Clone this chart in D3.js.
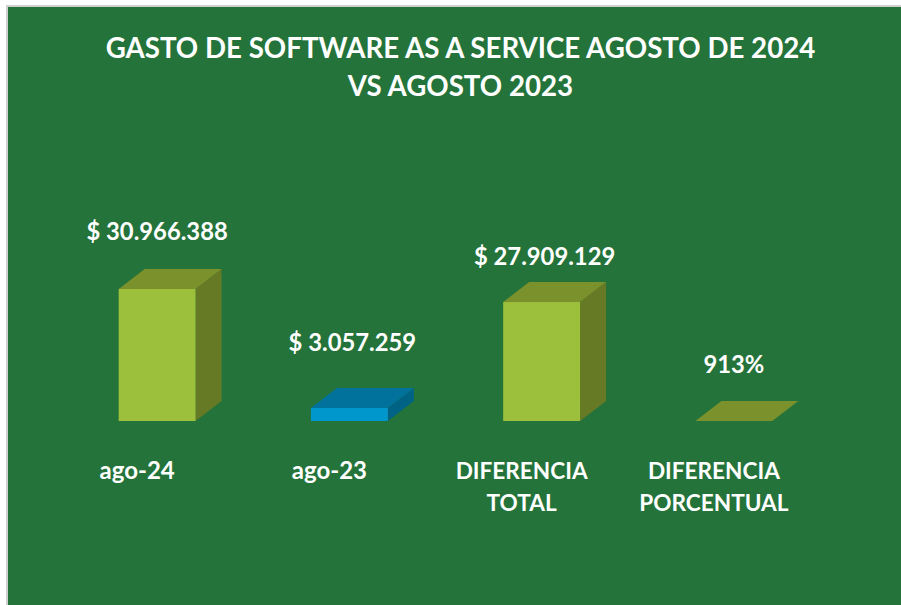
<!DOCTYPE html>
<html>
<head>
<meta charset="utf-8">
<script src="https://cdn.jsdelivr.net/npm/d3@7"></script>
<style>
  html, body { margin: 0; padding: 0; background: #fff; overflow: hidden; }
  svg { display: block; }
  text { font-family: Lato, "Open Sans", sans-serif; font-weight: 700; fill: #fff; }
</style>
</head>
<body>
<svg id="chart" width="901" height="605"></svg>
<script>
// Values
const categories = ["ago-24", "ago-23", "DIFERENCIA TOTAL", "DIFERENCIA PORCENTUAL"];
const categoryLines = [["ago-24"], ["ago-23"], ["DIFERENCIA", "TOTAL"], ["DIFERENCIA", "PORCENTUAL"]];
const values = [30966388, 3057259, 27909129, 9.13];
const valueLabels = ["$ 30.966.388", "$ 3.057.259", "$ 27.909.129", "913%"];
const titleLines = ["GASTO DE SOFTWARE AS A SERVICE AGOSTO DE 2024", "VS AGOSTO 2023"];

// front, top, side colours of each bar
const greenShades = ["#9dc03c", "#7a912c", "#667a26"];
const blueShades = ["#0097cc", "#00729b", "#006385"];
const shades = [greenShades, blueShades, greenShades, greenShades];

// Hand-placed labels: shift from the bar centre and gap above the bar
const labelShift = [0, 3, 3, 0];
const labelGap = [49, 57, 37, 48];
const categorySize = [24, 24, 22.6, 22.6];

const svg = d3.select("#chart");

// Chart background with its thin grey frame
svg.append("rect")
    .attr("x", 7)
    .attr("y", 6)
    .attr("width", 900)
    .attr("height", 610)
    .attr("fill", "#24733a")
    .attr("stroke", "#d0d0d0")
    .attr("stroke-width", 2);

const x = d3.scaleBand()
    .domain(categories)
    .range([61, 830])
    .paddingInner(0.6)
    .paddingOuter(0.3);

const y = d3.scaleLinear()
    .domain([0, d3.max(values)])
    .range([421, 289]);

// Depth of the 3D bars
const depthX = 26, depthY = 20;

const bars = svg.selectAll(".bar")
    .data(categories)
    .join("g")
    .attr("class", "bar");

// Side face
bars.append("path")
    .attr("fill", (d, i) => shades[i][2])
    .attr("d", (d, i) => {
        const r = x(d) + x.bandwidth();
        return `M${r},${y(values[i])}L${r + depthX},${y(values[i]) - depthY}L${r + depthX},${y(0) - depthY}L${r},${y(0)}Z`;
    });

// Top face
bars.append("path")
    .attr("fill", (d, i) => shades[i][1])
    .attr("d", (d, i) => {
        const l = x(d), r = l + x.bandwidth(), t = y(values[i]);
        return `M${l},${t}L${l + depthX},${t - depthY}L${r + depthX},${t - depthY}L${r},${t}Z`;
    });

// Front face
bars.append("rect")
    .attr("x", d => x(d))
    .attr("y", (d, i) => y(values[i]))
    .attr("width", x.bandwidth())
    .attr("height", (d, i) => y(0) - y(values[i]))
    .attr("fill", (d, i) => shades[i][0]);

// Value labels
svg.selectAll(".value")
    .data(categories)
    .join("text")
    .attr("class", "value")
    .attr("x", (d, i) => x(d) + x.bandwidth() / 2 + labelShift[i])
    .attr("y", (d, i) => y(values[i]) - labelGap[i])
    .attr("text-anchor", "middle")
    .style("font-size", "23.8px")
    .text((d, i) => valueLabels[i]);

// Category labels
svg.selectAll(".category")
    .data(categories)
    .join("text")
    .attr("class", "category")
    .attr("text-anchor", "middle")
    .style("font-size", (d, i) => categorySize[i] + "px")
    .each(function(d, i) {
        d3.select(this).selectAll("tspan")
            .data(categoryLines[i])
            .join("tspan")
            .attr("x", x(d) + x.bandwidth() / 2 - 20)
            .attr("y", (t, j) => 479 + j * 32)
            .text(t => t);
    });

// Title
svg.selectAll(".title")
    .data(titleLines)
    .join("text")
    .attr("class", "title")
    .attr("x", 460.5)
    .attr("y", (d, i) => 58 + i * 38)
    .attr("text-anchor", "middle")
    .style("font-size", "27.7px")
    .text(d => d);
</script>
</body>
</html>
